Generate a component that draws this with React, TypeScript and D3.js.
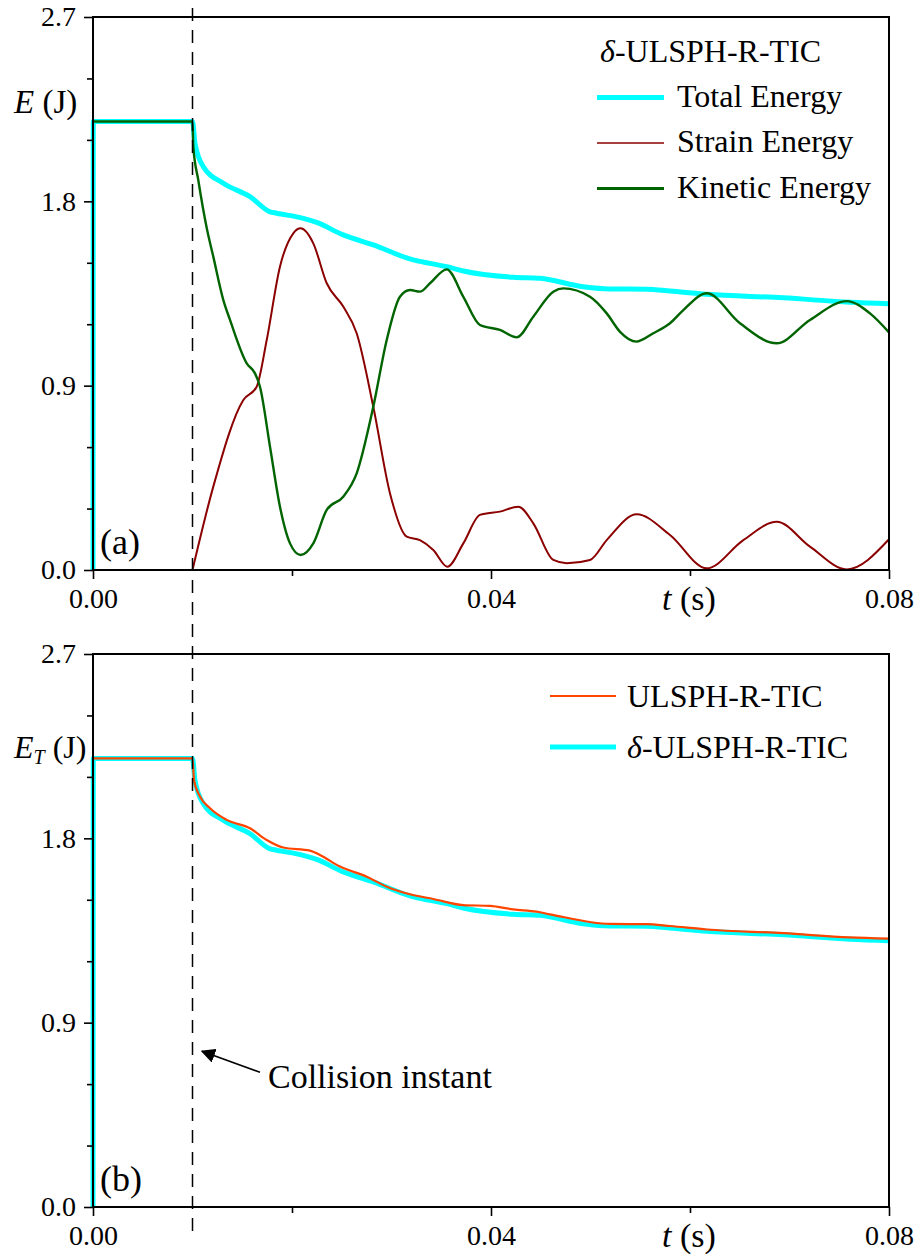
import React, { useRef, useEffect } from "react";
import * as d3 from "d3";

// axis ticks
const yTicks = [0, 0.9, 1.8, 2.7];
const yMinor = [0.3, 0.6, 1.2, 1.5, 2.1, 2.4];
const xTicks = [0, 0.04, 0.08];
const xMinor = [0.02, 0.06];
const collisionT = 0.01;

// panel (a): delta-ULSPH-R-TIC energies, [t (s), E (J)]
const totalEnergy: [number, number][] = [
  [0, 0], [0.00003, 2.19], [0.01, 2.19], [0.01025, 2.083], [0.01109, 1.969], [0.0131, 1.888],
  [0.01578, 1.823], [0.01779, 1.749], [0.01846, 1.742], [0.02114, 1.717], [0.02248, 1.697],
  [0.02515, 1.636], [0.02817, 1.587], [0.03219, 1.514], [0.03387, 1.497], [0.03555, 1.481],
  [0.03722, 1.46], [0.04224, 1.429], [0.04492, 1.424], [0.04928, 1.383], [0.05196, 1.372],
  [0.05565, 1.371], [0.05799, 1.362], [0.06168, 1.346], [0.06938, 1.329], [0.07608, 1.307],
  [0.08, 1.3],
];

const strainEnergy: [number, number][] = [
  [0.01, 0], [0.01209, 0.407], [0.01511, 0.83], [0.01645, 0.895], [0.01746, 1.123],
  [0.01879, 1.481], [0.02013, 1.644], [0.02087, 1.668], [0.02214, 1.595], [0.02349, 1.4],
  [0.02515, 1.286], [0.0265, 1.156], [0.02817, 0.797], [0.02985, 0.374], [0.03153, 0.163],
  [0.03286, 0.146], [0.0342, 0.098], [0.03561, 0.016], [0.03722, 0.13], [0.03889, 0.269],
  [0.0409, 0.285], [0.04274, 0.309], [0.04425, 0.228], [0.04626, 0.049], [0.04761, 0.033],
  [0.04995, 0.049], [0.05163, 0.146], [0.05465, 0.272], [0.05799, 0.171], [0.06168, 0.008],
  [0.06536, 0.146], [0.06871, 0.236], [0.07206, 0.114], [0.07575, 0.003], [0.08, 0.15],
];

const kineticEnergy: [number, number][] = [
  [0, 2.19], [0.01, 2.19], [0.01008, 2.067], [0.01058, 1.904], [0.01143, 1.67], [0.01209, 1.53],
  [0.0131, 1.318], [0.01377, 1.221], [0.01545, 1.009], [0.01628, 0.96], [0.01678, 0.895],
  [0.01779, 0.602], [0.01879, 0.309], [0.0198, 0.13], [0.02087, 0.073], [0.02214, 0.13],
  [0.02349, 0.293], [0.02515, 0.358], [0.0265, 0.472], [0.02817, 0.797], [0.02952, 1.123],
  [0.03085, 1.334], [0.03186, 1.367], [0.03286, 1.359], [0.03387, 1.4], [0.03555, 1.468],
  [0.03722, 1.334], [0.03889, 1.196], [0.0409, 1.172], [0.04258, 1.136], [0.04425, 1.237],
  [0.04626, 1.359], [0.04727, 1.375], [0.04995, 1.334], [0.05163, 1.253], [0.05297, 1.163],
  [0.0546, 1.115], [0.05631, 1.156], [0.05799, 1.205], [0.05933, 1.269], [0.06168, 1.351],
  [0.06502, 1.205], [0.06871, 1.107], [0.07206, 1.221], [0.07575, 1.313], [0.07809, 1.253],
  [0.08, 1.16],
];

// panel (b): total energy of ULSPH-R-TIC (the delta version reuses totalEnergy)
const ulsphTotal: [number, number][] = [
  [0, 2.19], [0.01, 2.19], [0.01015, 2.085], [0.01075, 2.004], [0.01176, 1.947], [0.01344, 1.89],
  [0.01578, 1.849], [0.01746, 1.792], [0.01913, 1.755], [0.02181, 1.74], [0.02281, 1.719],
  [0.02482, 1.662], [0.02751, 1.613], [0.02952, 1.564], [0.03186, 1.527], [0.0342, 1.504],
  [0.03722, 1.474], [0.0399, 1.47], [0.04224, 1.453], [0.04459, 1.442], [0.04593, 1.429],
  [0.052, 1.382], [0.0556, 1.381], [0.058, 1.372], [0.0617, 1.355], [0.0694, 1.337],
  [0.076, 1.316], [0.08, 1.31],
];

const FONT = "Liberation Serif, DejaVu Serif, serif";
const W = 919;
const H = 1256;
const left = 93;
const right = 889;
const panelTops = [17, 654];
const panelH = 553;

const x = d3.scaleLinear().domain([0, 0.08]).range([left, right]);

function Panel({ top, idx }: { top: number; idx: number }) {
  const gRef = useRef<SVGGElement>(null);
  const y = d3.scaleLinear().domain([0, 2.7]).range([top + panelH, top]);
  const line = d3
    .line<[number, number]>()
    .x((d) => x(d[0]))
    .y((d) => y(d[1]))
    .curve(d3.curveMonotoneX);

  useEffect(() => {
    const g = d3.select(gRef.current);
    g.selectAll("*").remove();
    const style = (sel: any) => {
      sel.select(".domain").remove();
      sel.selectAll("line").attr("stroke", "#000").attr("stroke-width", 1.6);
      sel
        .selectAll("text")
        .attr("font-size", 28)
        .attr("font-family", FONT)
        .style("font-family", FONT)
        .attr("fill", "#000");
    };
    g.append("g")
      .attr("transform", `translate(${left},0)`)
      .call(d3.axisLeft(y).tickValues(yMinor).tickSize(6).tickFormat(() => ""))
      .call(style);
    g.append("g")
      .attr("transform", `translate(${left},0)`)
      .call(d3.axisLeft(y).tickValues(yTicks).tickSize(9).tickPadding(8).tickFormat(d3.format(".1f")))
      .call(style);
    g.append("g")
      .attr("transform", `translate(0,${top + panelH})`)
      .call(d3.axisBottom(x).tickValues(xMinor).tickSize(6).tickFormat(() => ""))
      .call(style);
    g.append("g")
      .attr("transform", `translate(0,${top + panelH})`)
      .call(d3.axisBottom(x).tickValues(xTicks).tickSize(9).tickPadding(9).tickFormat(d3.format(".2f")))
      .call(style);
  }, [top]);

  const bottom = top + panelH;
  return (
    <g>
      {idx === 0 ? (
        <>
          <path d={line(totalEnergy) || ""} fill="none" stroke="#00FFFF" strokeWidth={5} />
          <path d={line(strainEnergy) || ""} fill="none" stroke="#8B0000" strokeWidth={2} />
          <path d={line(kineticEnergy) || ""} fill="none" stroke="#006400" strokeWidth={2.4} />
        </>
      ) : (
        <>
          <path d={line(totalEnergy) || ""} fill="none" stroke="#00FFFF" strokeWidth={5} />
          <path d={line(ulsphTotal) || ""} fill="none" stroke="#FF4500" strokeWidth={2.2} />
        </>
      )}
      <rect x={left} y={top} width={right - left} height={panelH} fill="none" stroke="#000" strokeWidth={2} />
      <g ref={gRef} />
      <text x={662} y={bottom + 40} fontSize={34}>
        <tspan fontStyle="italic">t</tspan> (s)
      </text>
      <text x={100} y={bottom - 16} fontSize={36}>
        {idx === 0 ? "(a)" : "(b)"}
      </text>
      {idx === 0 ? (
        <text x={14} y={top + 96} fontSize={33}>
          <tspan fontStyle="italic">E</tspan> (J)
        </text>
      ) : (
        <text x={14} y={top + 104} fontSize={32}>
          <tspan fontStyle="italic">E</tspan>
          <tspan fontStyle="italic" fontSize={20} dy={6}>T</tspan>
          <tspan dy={-6}> (J)</tspan>
        </text>
      )}
    </g>
  );
}

const legendA = [
  { label: "Total Energy", color: "#00FFFF", width: 5 },
  { label: "Strain Energy", color: "#8B0000", width: 1.6 },
  { label: "Kinetic Energy", color: "#006400", width: 3 },
];
const legendB = [
  { label: "ULSPH-R-TIC", color: "#FF4500", width: 2.2, delta: false },
  { label: "-ULSPH-R-TIC", color: "#00FFFF", width: 5, delta: true },
];

export default function App() {
  const yBot = d3.scaleLinear().domain([0, 2.7]).range([panelTops[1] + panelH, panelTops[1]]);
  return (
    <svg
      width={W}
      height={H}
      style={{ position: "absolute", left: 0, top: 0, background: "#fff", fontFamily: FONT }}
      fontFamily={FONT}
      xmlns="http://www.w3.org/2000/svg"
    >
      <rect width={W} height={H} fill="#fff" />
      <Panel top={panelTops[0]} idx={0} />
      <Panel top={panelTops[1]} idx={1} />

      {/* collision instant */}
      <line
        x1={x(collisionT)}
        x2={x(collisionT)}
        y1={8}
        y2={1240}
        stroke="#000"
        strokeWidth={1.5}
        strokeDasharray="13,9"
      />

      {/* legend (a) */}
      <text x={600} y={62} fontSize={32}>
        <tspan fontStyle="italic">δ</tspan>-ULSPH-R-TIC
      </text>
      {legendA.map((d, i) => (
        <g key={d.label}>
          <line x1={597} x2={664} y1={97.5 + i * 45.5} y2={97.5 + i * 45.5} stroke={d.color} strokeWidth={d.width} />
          <text x={677} y={106.5 + i * 45.5} fontSize={32}>
            {d.label}
          </text>
        </g>
      ))}

      {/* legend (b) */}
      {legendB.map((d, i) => (
        <g key={d.label}>
          <line x1={550} x2={616} y1={696 + i * 51} y2={696 + i * 51} stroke={d.color} strokeWidth={d.width} />
          <text x={627} y={706.5 + i * 51} fontSize={32}>
            {d.delta ? <tspan fontStyle="italic">δ</tspan> : null}
            {d.label}
          </text>
        </g>
      ))}

      {/* annotation */}
      <defs>
        <marker id="arrow" viewBox="0 0 10 10" refX="9" refY="5" markerWidth="9" markerHeight="9" orient="auto-start-reverse">
          <path d="M0,0 L10,5 L0,10 z" fill="#000" />
        </marker>
      </defs>
      <line
        x1={260}
        y1={yBot(0.76) + 21}
        x2={202}
        y2={yBot(0.76)}
        stroke="#000"
        strokeWidth={1.6}
        markerEnd="url(#arrow)"
      />
      <text x={268} y={1088} fontSize={34}>
        Collision instant
      </text>
    </svg>
  );
}
